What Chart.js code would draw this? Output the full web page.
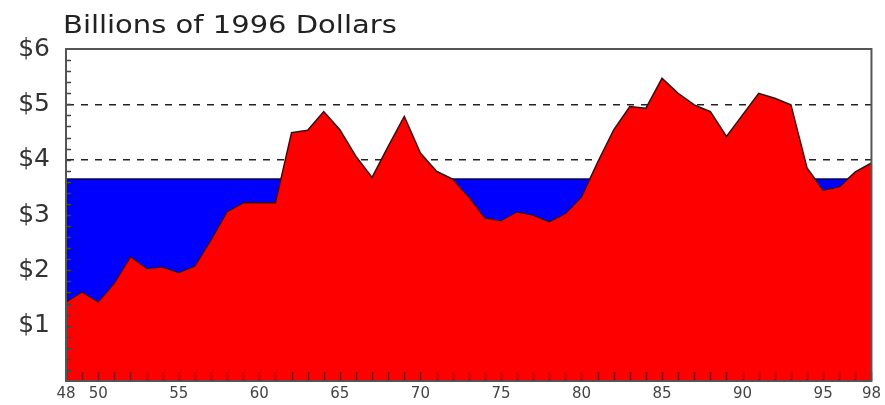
<!DOCTYPE html>
<html>
<head>
<meta charset="utf-8">
<script src="https://cdn.jsdelivr.net/npm/chart.js@4.4.1/dist/chart.umd.min.js"></script>
<style>
  html, body { margin: 0; padding: 0; background: #fff; }
  #wrap { width: 885px; height: 405px; }
</style>
</head>
<body>
<div id="wrap"><canvas id="spendChart"></canvas></div>
<script>
// years are two-digit (1948-1998)
const years = [48, 49, 50, 51, 52, 53, 54, 55, 56, 57, 58, 59, 60, 61, 62, 63, 64, 65, 66, 67,
               68, 69, 70, 71, 72, 73, 74, 75, 76, 77, 78, 79, 80, 81, 82, 83, 84, 85, 86, 87,
               88, 89, 90, 91, 92, 93, 94, 95, 96, 97, 98];
const spending = [1.43, 1.61, 1.43, 1.77, 2.25, 2.04, 2.06, 1.96, 2.08, 2.55, 3.06, 3.22, 3.22, 3.22,
                  4.49, 4.53, 4.87, 4.54, 4.06, 3.68, 4.24, 4.78, 4.12, 3.79, 3.65, 3.33, 2.95, 2.90,
                  3.06, 3.00, 2.88, 3.03, 3.33, 3.95, 4.54, 4.96, 4.93, 5.47, 5.20, 4.99, 4.87, 4.42,
                  4.81, 5.20, 5.11, 4.99, 3.85, 3.45, 3.51, 3.78, 3.94];
const averageLevel = 3.65;
const xTickLabels = [48, 50, 55, 60, 65, 70, 75, 80, 85, 90, 95, 98];
const yTickLabels = [1, 2, 3, 4, 5, 6];
const dashedLevels = [4, 5];

const titleText = 'Billions of 1996 Dollars';
const fontFamily = '"DejaVu Sans", Verdana, sans-serif';

// title, frame and inward minor ticks
const decorPlugin = {
    id: 'decor',
    afterDatasetsDraw(chart) {
        const { ctx, chartArea: a, scales } = chart;
        ctx.save();
        ctx.strokeStyle = 'rgba(90,0,0,0.75)';
        ctx.lineWidth = 1.5;
        ctx.beginPath();
        for (let yr = 48; yr <= 98; yr++) {
            const x = Math.round(scales.x.getPixelForValue(yr)) + 0.5;
            ctx.moveTo(x, a.bottom);
            ctx.lineTo(x, a.bottom - 9);
        }
        ctx.stroke();
        ctx.strokeStyle = '#444';
        ctx.beginPath();
        for (let k = 1; k < 30; k++) {
            const y = Math.round(scales.y.getPixelForValue(k / 5)) + 0.5;
            ctx.moveTo(a.left, y);
            ctx.lineTo(a.left + 5, y);
        }
        ctx.stroke();
        ctx.strokeStyle = '#555';
        ctx.lineWidth = 2;
        ctx.strokeRect(a.left, a.top, a.right - a.left, a.bottom - a.top);
        ctx.restore();
    },
    afterDraw(chart) {
        const { ctx, chartArea: a } = chart;
        ctx.save();
        ctx.fillStyle = '#222';
        ctx.font = '25px ' + fontFamily;
        ctx.textBaseline = 'alphabetic';
        ctx.translate(a.left - 3, 33);
        ctx.scale(1.16, 1);   // the original lettering is wider than DejaVu
        ctx.fillText(titleText, 0, 0);
        ctx.restore();
    }
};

const ctx = document.getElementById('spendChart').getContext('2d');
const chart = new Chart(ctx, {
    type: 'line',
    data: {
        datasets: [{
            label: 'Spending',
            data: years.map((yr, i) => ({ x: yr, y: spending[i] })),
            borderColor: '#5a0000',
            borderWidth: 1.5,
            backgroundColor: '#ff0000',
            fill: 'origin',
            pointRadius: 0,
            tension: 0,
            order: 1
        }, {
            label: 'Average',
            data: [{ x: years[0], y: averageLevel }, { x: years[years.length - 1], y: averageLevel }],
            borderColor: '#000070',
            borderWidth: 1.5,
            backgroundColor: '#0000ff',
            fill: 'origin',
            pointRadius: 0,
            order: 2
        }]
    },
    options: {
        responsive: true,
        maintainAspectRatio: false,
        animation: false,
        layout: { padding: { top: 49, right: 8, left: 0, bottom: 0 } },
        plugins: {
            legend: { display: false },
            tooltip: { enabled: false },
            title: { display: false }
        },
        scales: {
            x: {
                type: 'linear',
                min: 48,
                max: 98,
                afterBuildTicks: scale => {
                    scale.ticks = xTickLabels.map(v => ({ value: v }));
                },
                afterFit: scale => { scale.height = 24; },
                grid: { display: false, drawTicks: false },
                border: { display: true, color: '#555', width: 2 },
                ticks: {
                    autoSkip: false,
                    maxRotation: 0,
                    padding: 4,
                    color: '#444',
                    font: { family: fontFamily, size: 15 },
                    callback: v => String(v)
                }
            },
            y: {
                min: 0,
                max: 6,
                afterBuildTicks: scale => {
                    scale.ticks = yTickLabels.map(v => ({ value: v }));
                },
                afterFit: scale => {
                    scale.width = 66;
                    scale.paddingBottom = 0;   // no label sits at $0
                },
                grid: {
                    drawTicks: false,
                    lineWidth: 1.5,
                    color: c => dashedLevels.includes(c.tick && c.tick.value) ? '#222' : 'rgba(0,0,0,0)'
                },
                border: { display: true, color: '#555', width: 2, dash: [7, 7] },
                ticks: {
                    padding: 16,
                    color: '#333',
                    font: { family: fontFamily, size: 25 },
                    callback: v => '$' + v
                }
            }
        }
    },
    plugins: [decorPlugin]
});
</script>
</body>
</html>
